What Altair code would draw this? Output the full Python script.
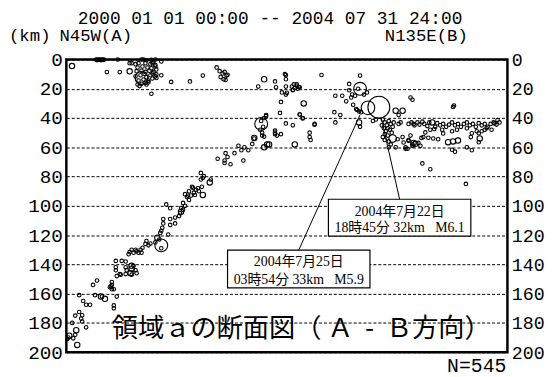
import altair as alt
import pandas as pd

# ---- data: (distance along section, depth km, magnitude) ----
shallow_west = [
    (5.7, 4.5, 2.5), (30, 0, 1.5), (31, 0.4, 1.5), (32, 0, 1.5), (33, 0.3, 1.5), (34, 0, 1.5),
    (35, 0.4, 1.5), (36, 0, 1.5), (37, 0.3, 1.5), (38, 0, 1.5), (52, 0, 1.5), (41, 8.6, 1.5),
    (54, 8.6, 1.5), (64, 8.1, 2.5), (64, 2.5, 1.5), (66, 2.5, 1.5),
    (76, 0, 1.5), (78, 0, 1.5), (81, 0.5, 1.5), (86, 0.3, 1.5), (90, 0, 1.5), (88, 1.5, 1.5),
    (73, 2.5, 1.5), (70, 3.2, 1.5), (80, 2.5, 1.5), (85, 3.2, 1.5), (90, 3.7, 1.5), (87, 2.5, 1.5),
    (72, 5.5, 1.5), (77, 4.8, 1.5), (82, 5.5, 1.5), (86, 6, 1.5), (90, 4.8, 1.5),
    (71, 8, 1.5), (76, 7.7, 1.5), (80, 8.5, 1.5), (84, 7.7, 1.5), (88, 8.5, 1.5), (91, 6.8, 1.5),
    (79, 9.8, 1.5), (70, 11.5, 1.5), (75, 10.8, 1.5), (81, 12.2, 1.5), (85, 10.8, 1.5),
    (90, 11.5, 1.5), (73, 14.4, 1.5), (78, 13.7, 1.5), (83, 14.4, 1.5), (87, 13, 1.5),
    (80, 16, 1.5), (72, 17.1, 1.5), (76, 16.6, 1.5), (81, 17.1, 1.5), (74, 18.2, 1.5),
    (83, 15.5, 1.5), (87, 9.5, 1.5), (91, 10.2, 1.5), (96, 10.8, 1.5), (91, 12.6, 1.5),
    (96, 1.4, 1.5), (86, 23.4, 1.5), (106, 15.3, 1.5), (125, 15, 1.5), (76, 12.6, 5.5),
]
shallow_mid = [
    (138, 11, 1.5), (152, 5.4, 1.5), (155, 8, 1.5), (158, 9.5, 1.5), (160, 8.5, 1.5),
    (162, 11, 1.5), (156, 12, 1.5), (159, 13.5, 1.5), (163, 10.5, 1.5), (161, 14, 1.5),
    (194, 18.5, 1.5), (200, 13.5, 2.5), (211, 15, 1.5), (212, 19, 1.5), (222, 10.6, 1.5),
    (222, 13.5, 1.5), (222, 18.5, 1.5), (228, 18.5, 1.5), (229, 20.7, 1.5), (231, 19.5, 1.5),
    (233, 18, 1.5), (236, 19, 1.5), (218, 22.5, 1.5), (222, 24, 1.5), (217, 29, 1.5),
    (240, 30, 2.5), (216, 36.5, 1.5), (236, 37.6, 1.5), (239, 40, 1.5), (202, 38, 1.5),
    (221, 10, 1.5), (223, 22.8, 1.5), (230, 17, 1.5), (234, 20, 1.5), (229, 21, 1.5),
    (251, 44.6, 1.5), (246, 50, 1.5), (246, 53, 1.5), (231, 58, 2.5), (203, 58, 2.5),
]
mid_deep = [
    (197, 44, 5.5), (197, 42, 1.5), (199, 46, 1.5), (196, 48, 1.5), (200, 40, 1.5),
    (202, 38.7, 1.5), (198, 50, 1.5), (211, 48.6, 1.5), (211, 51, 1.5), (200, 52.7, 1.5),
    (190, 53.6, 2.5), (200, 60, 2.5), (205, 58, 2.5), (188, 57.7, 1.5), (180, 60, 1.5),
    (174, 59, 1.5), (177, 62, 1.5), (184, 62, 1.5), (179, 69, 1.5), (170, 64, 1.5),
    (161, 64, 1.5), (163, 66.6, 1.5), (160, 69, 1.5), (153, 67.8, 1.5), (160, 70.7, 1.5),
    (166, 71.6, 1.5), (222, 43.7, 1.5), (229, 45, 1.5), (198, 52, 1.5), (211, 50, 1.5),
    (213, 52, 1.5), (217, 51, 1.5), (190, 54, 1.5),
]
slab_upper = [
    (136, 77.5, 1.5), (139, 79.7, 1.5), (136, 82, 1.5), (138, 81, 1.5), (146, 82, 1.5),
    (145, 84, 2.5), (133, 88, 1.5), (128, 87.6, 1.5), (137, 87, 1.5), (134, 90, 1.5),
    (138, 92.6, 2.5), (130, 92.6, 1.5), (126, 93, 1.5), (123, 93, 1.5), (120, 92, 1.5),
    (124, 96, 1.5), (118, 98, 1.5), (120, 100, 1.5), (116, 101.6, 1.5), (101, 99, 1.5),
    (105, 101.6, 1.5), (118, 102.7, 1.5), (116, 104, 2.5), (115, 105, 1.5), (114, 107, 1.5),
    (110, 108, 1.5), (105, 109, 1.5), (105, 113, 1.5), (110, 112, 1.5), (98, 109, 1.5),
    (98, 112, 1.5), (97, 115, 1.5), (96, 117, 1.5), (95, 118.5, 1.5), (103, 119.6, 1.5),
    (92, 121.8, 2.5), (94, 123, 1.5), (96, 127, 5.5), (96, 129, 1.5), (90, 125, 1.5),
    (85, 125.7, 1.5), (81, 124, 1.5), (80, 126, 1.5), (83, 127, 1.5), (77, 128.6, 1.5),
    (75, 130, 1.5), (71, 131, 1.5), (73, 132, 1.5), (76, 132, 1.5), (68, 132, 1.5),
    (64, 131.5, 1.5), (70, 130, 1.5), (66, 130, 1.5), (63, 133, 1.5), (127, 87, 1.5),
    (131, 89, 1.5), (124, 90, 1.5), (122, 94, 1.5), (129, 91, 1.5),
]
slab_lower = [
    (60, 138, 1.5), (56, 137.6, 1.5), (50, 142, 1.5), (50, 144, 1.5), (60, 142, 1.5),
    (61, 144, 1.5), (66, 141, 2.5), (66, 143, 2.5), (65, 146, 2.5), (66, 147, 1.5),
    (70, 144, 1.5), (68, 141, 1.5), (60, 146.6, 1.5), (54, 146.6, 1.5), (51, 148, 1.5),
    (55, 147, 1.5), (71, 146, 1.5), (50, 137.6, 1.5), (46, 152, 1.5), (46, 154, 1.5),
    (44, 155.6, 1.5), (45, 155, 1.5), (46, 157, 1.5), (48, 157, 1.5), (31, 151, 1.5),
    (27, 154, 1.5), (36, 162, 1.5), (39, 163.5, 2.5), (35, 162, 2.5), (29, 161, 1.5),
    (48, 168, 1.5), (51, 162, 1.5), (48, 170, 1.5), (13, 161, 1.5), (17, 165, 1.5),
    (20, 167.6, 1.5), (24, 167.6, 1.5), (13, 172.5, 1.5), (9, 175, 1.5), (16, 174.8, 1.5),
    (15, 177, 1.5), (16, 179, 1.5), (6, 180, 1.5), (20, 183, 1.5), (10, 185, 2.5),
    (9, 188, 1.5), (3, 188.7, 2.5), (7, 190.5, 1.5), (11, 195, 2.5), (2, 190, 1.5), (1, 191, 1.5),
]
east_shallow = [
    (258, 10.6, 1.5), (233, 17, 1.5), (235, 19, 1.5), (236, 37.6, 1.5), (239, 40.3, 1.5),
    (251, 44, 1.5), (247, 55, 1.5), (272, 24.8, 1.5), (279, 24.8, 1.5), (271, 36, 1.5),
    (277, 38, 1.5), (272, 43, 1.5), (297, 11, 1.5), (286, 16.7, 1.5), (286, 21, 1.5),
    (295, 20, 1.5), (297, 20, 5.5), (289, 24, 1.5), (292, 24.8, 1.5), (288, 26, 1.5),
    (304, 22.5, 1.5), (301, 24, 1.5), (283, 28.6, 1.5), (290, 31, 1.5), (293, 33.8, 1.5),
    (294, 34.5, 1.5), (296, 35.5, 1.5), (298, 36, 1.5), (305, 33, 5.9), (316, 32.6, 6.1),
    (296, 43, 2.5), (297, 46, 1.5), (310, 42, 1.5), (313, 41, 1.5),
    (320, 41, 1.5), (322, 43, 1.5), (324, 45, 1.5), (326, 42, 1.5), (328, 44, 1.5),
    (330, 46, 1.5), (321, 47, 1.5), (323, 49, 1.5), (325, 47, 1.5), (327, 48, 1.5),
    (329, 50, 1.5), (331, 43, 1.5), (319, 45, 1.5), (322, 51, 1.5), (325, 52, 1.5),
    (320, 53, 1.5), (336, 44, 1.5), (338, 43, 1.5), (333, 35, 2.5), (340, 35, 2.5),
    (336, 38, 1.5), (348, 26, 1.5), (350, 27.5, 1.5), (351, 44, 1.5), (330, 54, 3.5),
    (326, 56, 1.5), (322, 55, 1.5), (328, 58, 1.5), (335, 54.5, 1.5), (340, 53, 1.5),
    (341, 56.7, 1.5), (346, 55.6, 1.5), (350, 58, 1.5), (343, 61, 1.5), (333, 60, 1.5),
    (326, 60, 1.5), (348, 52, 1.5), (391, 32.4, 1.5), (392, 31.5, 1.5), (360, 71, 1.5),
    (368, 75, 1.5), (404, 85, 1.5), (350, 59, 1.5), (345, 61, 1.5), (359, 53.6, 1.5),
    (353, 57.6, 2.5), (370, 43, 2.5),
]
east_band = [
    (346, 44, 1.5), (349, 43, 1.5), (352, 45, 1.5), (355, 43, 1.5), (357, 44.5, 1.5),
    (360, 42.5, 1.5), (362, 44, 1.5), (365, 45.5, 1.5), (367, 43, 1.5), (373, 46, 1.5),
    (375, 43.5, 1.5), (378, 45, 1.5), (381, 44, 1.5), (384, 46, 1.5), (387, 44.5, 1.5),
    (390, 43, 1.5), (393, 45, 1.5), (396, 44, 1.5), (399, 46, 1.5), (402, 44, 1.5),
    (405, 43, 1.5), (408, 45, 1.5), (411, 44, 1.5), (414, 46, 1.5), (417, 43.5, 1.5),
    (420, 45, 1.5), (423, 44, 1.5), (426, 46, 1.5), (429, 44, 1.5), (432, 43, 1.5),
    (435, 44.5, 1.5), (438, 43, 1.5), (436, 41.4, 1.5), (433, 43.7, 1.5),
    (363, 49.8, 1.5), (368, 48, 1.5), (372, 47.5, 1.5), (380, 48, 1.5), (395, 48, 1.5),
    (405, 47, 1.5), (415, 49, 1.5), (425, 47, 1.5), (430, 48, 1.5),
    (361, 53, 1.5), (366, 53.5, 1.5), (371, 54, 1.5), (376, 54.5, 1.5), (381, 50.5, 1.5),
    (390, 49, 1.5), (410, 50.4, 1.5), (409, 53, 1.5), (417, 50.4, 1.5), (420, 49, 1.5),
    (423, 48, 1.5), (386, 56.5, 2.5), (391, 56, 2.5), (396, 55.4, 2.5), (418, 54, 2.5),
    (417, 56.5, 1.5), (405, 60, 1.5), (410, 62, 1.5), (393, 63, 1.5), (390, 61.7, 1.5),
    (346, 55, 1.5), (351, 57, 2.5), (343, 60, 1.5), (356, 57, 1.5), (358, 59, 1.5),
]

depth_ticks = [0, 20, 40, 60, 80, 100, 120, 140, 160, 180, 200]
mag_domain = [1.5, 2.5, 3.5, 5.9, 6.1]
title_period = "2000 01 01 00:00 -- 2004 07 31 24:00"
caption = "領域ａの断面図（\u00a0Ａ\u00a0\u00a0-\u00a0\u00a0Ｂ方向）"
count_label = "N=545"
NB = "\u00a0"
callout_a = ["2004年7月22日", "18時45分" + NB + "32km" + NB * 3 + "M6.1"]
callout_b = ["2004年7月25日", "03時54分" + NB + "33km" + NB * 3 + "M5.9"]

rows = []
for group in [shallow_west, shallow_mid, mid_deep, slab_upper, slab_lower, east_shallow, east_band]:
    for d, z, m in group:
        rows.append({"dist": d, "depth": z, "mag": m})
df = pd.DataFrame(rows)

xs = alt.Scale(domain=[0, 446], nice=False, zero=False)
ys = alt.Scale(domain=[0, 200], reverse=True, nice=False, zero=False)
MONO = "Liberation Mono"
SERIF = "Liberation Serif, Noto Sans CJK JP"

left_axis = alt.Axis(orient="left", values=depth_ticks, title=None, ticks=False, domain=False,
                     labelFont=MONO, labelFontSize=19.5, labelColor="black", labelPadding=4,
                     labelFlush=False, grid=True, gridColor="black", gridWidth=1,
                     gridDash=[3, 2], gridOpacity=1)
right_axis = alt.Axis(orient="right", values=depth_ticks, title=None, ticks=False, domain=False,
                      labelFont=MONO, labelFontSize=18.5, labelColor="black", labelPadding=4,
                      labelFlush=False, grid=False)

points = alt.Chart(df).mark_point(shape="circle", filled=False, color="black",
                                  strokeWidth=1.1, opacity=1).encode(
    x=alt.X("dist:Q", scale=xs, axis=None),
    y=alt.Y("depth:Q", scale=ys, axis=left_axis),
    size=alt.Size("mag:Q", scale=alt.Scale(domain=mag_domain, range=[13, 30, 60, 190, 490],
                                           zero=False), legend=None),
)

right = alt.Chart(df).mark_point(opacity=0).encode(
    x=alt.X("dist:Q", scale=xs, axis=None),
    y=alt.Y("depth:Q", scale=ys, axis=right_axis),
)

base = alt.Chart(pd.DataFrame({"a": [0]}))


def DX(v):
    return alt.X(datum=v, scale=xs, axis=None)


def DY(v):
    return alt.Y(datum=v, scale=ys, axis=None)


lead_a = base.mark_rule(color="black", strokeWidth=1).encode(
    x=DX(318.6), y=DY(40.5), x2=alt.X2(datum=337), y2=alt.Y2(datum=95.5))
lead_b = base.mark_rule(color="black", strokeWidth=1).encode(
    x=DX(297), y=DY(37.8), x2=alt.X2(datum=235), y2=alt.Y2(datum=130.2))

box_a = base.mark_rect(fill="white", stroke="black", strokeWidth=1.2).encode(
    x=DX(265), x2=alt.X2(datum=409), y=DY(95.5), y2=alt.Y2(datum=120.7))
box_b = base.mark_rect(fill="white", stroke="black", strokeWidth=1.2).encode(
    x=DX(163), x2=alt.X2(datum=307), y=DY(130.2), y2=alt.Y2(datum=156.1))


def btext(s, x, y):
    return base.mark_text(font=SERIF, fontSize=14, color="black", baseline="middle",
                          align="center").encode(x=DX(x), y=DY(y), text=alt.value(s))


texts = [btext(callout_a[0], 337, 103.9), btext(callout_a[1], 337, 115.5),
         btext(callout_b[0], 235, 138.5), btext(callout_b[1], 235, 150.7)]


def ptext(s, x, y, align, font=MONO, size=17.5, baseline="alphabetic"):
    return base.mark_text(font=font, fontSize=size, color="black", align=align,
                          baseline=baseline).encode(x=alt.value(x), y=alt.value(y),
                                                    text=alt.value(s))


labels = [
    ptext(title_period, 206, -36, "center", size=18),
    ptext("(km)", -58, -19, "left"),
    ptext("N45W(A)", -7, -19, "left"),
    ptext("N135E(B)", 406, -19, "right"),
    ptext(count_label, 445, 316, "right", size=20),
    ptext(caption, 46, 273, "left", font="Noto Sans CJK JP", size=26.5, baseline="middle"),
]

chart = alt.layer(points, right, lead_a, lead_b, box_a, box_b, *texts, *labels).resolve_axis(
    y="independent").properties(
    width=446, height=296, autosize=alt.AutoSizeParams(type="none"),
    padding={"left": 59, "top": 50, "right": 38, "bottom": 23},
).configure(background="white").configure_view(stroke="black", strokeWidth=2.5)

chart.save("out.html", embed_options={"renderer": "svg", "actions": False})
